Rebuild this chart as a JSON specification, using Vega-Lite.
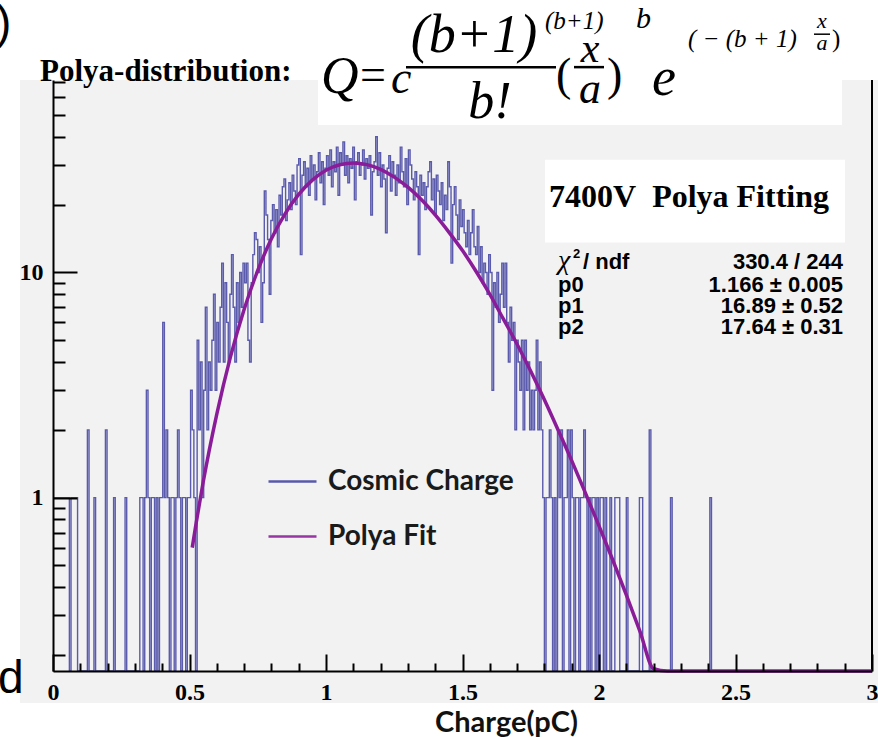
{
  "$schema": "https://vega.github.io/schema/vega-lite/v6.json",
  "width": 819,
  "height": 591,
  "autosize": {"type": "none"},
  "padding": {"left": 53, "top": 80, "right": 6, "bottom": 66},
  "background": "white",
  "config": {
    "view": {"stroke": null, "fill": "#f2f2f2"},
    "axis": {"domainColor": "black", "domainWidth": 2, "tickColor": "black", "tickWidth": 2, "grid": false, "labelFont": "Liberation Serif", "labelFontWeight": "bold", "labelFontSize": 24, "labelColor": "black"}
  },
  "datasets": {
    "hist": [
      {"x":0.003,"n":1},{"x":0.009,"n":1},{"x":0.015,"n":1},{"x":0.021,"n":1},{"x":0.027,"n":1},{"x":0.033,"n":1},{"x":0.039,"n":1},{"x":0.045,"n":1},{"x":0.051,"n":1},{"x":0.057,"n":1},{"x":0.063,"n":0},{"x":0.069,"n":1},{"x":0.075,"n":1},{"x":0.081,"n":1},{"x":0.087,"n":1},{"x":0.093,"n":0},
      {"x":0.123,"n":0},{"x":0.129,"n":2},{"x":0.135,"n":0},
      {"x":0.147,"n":0},{"x":0.153,"n":1},{"x":0.159,"n":0},
      {"x":0.189,"n":0},{"x":0.195,"n":2},{"x":0.201,"n":0},
      {"x":0.219,"n":0},{"x":0.225,"n":1},{"x":0.231,"n":0},
      {"x":0.261,"n":0},{"x":0.267,"n":1},{"x":0.273,"n":0},
      {"x":0.315,"n":0},{"x":0.321,"n":1},{"x":0.327,"n":1},{"x":0.333,"n":0},{"x":0.339,"n":1},{"x":0.345,"n":3},{"x":0.351,"n":1},{"x":0.357,"n":0},{"x":0.363,"n":1},{"x":0.369,"n":1},{"x":0.375,"n":0},{"x":0.381,"n":1},{"x":0.387,"n":0},{"x":0.393,"n":1},{"x":0.399,"n":1},{"x":0.405,"n":6},{"x":0.411,"n":1},{"x":0.417,"n":2},{"x":0.423,"n":1},{"x":0.429,"n":0},{"x":0.435,"n":1},{"x":0.441,"n":1},{"x":0.447,"n":0},{"x":0.453,"n":1},{"x":0.459,"n":2},{"x":0.465,"n":1},{"x":0.471,"n":0},{"x":0.477,"n":1},{"x":0.483,"n":1},{"x":0.489,"n":0},{"x":0.495,"n":1},{"x":0.501,"n":1},{"x":0.507,"n":3},{"x":0.513,"n":2},{"x":0.519,"n":1},{"x":0.525,"n":0},
      {"x":0.531,"n":5},{"x":0.537,"n":2},{"x":0.543,"n":4},{"x":0.549,"n":1},{"x":0.555,"n":3},{"x":0.561,"n":7},{"x":0.567,"n":2},{"x":0.573,"n":4},{"x":0.579,"n":3},{"x":0.585,"n":5},{"x":0.591,"n":8},{"x":0.597,"n":3},{"x":0.603,"n":6},{"x":0.609,"n":4},{"x":0.615,"n":7},{"x":0.621,"n":11},{"x":0.627,"n":4},{"x":0.633,"n":9},{"x":0.639,"n":6},{"x":0.645,"n":4},{"x":0.651,"n":8},{"x":0.657,"n":12},{"x":0.663,"n":7},{"x":0.669,"n":4},{"x":0.675,"n":9},{"x":0.681,"n":6},{"x":0.687,"n":10},{"x":0.693,"n":7},{"x":0.699,"n":11},{"x":0.705,"n":9},{"x":0.711,"n":11},{"x":0.717,"n":5},{"x":0.723,"n":4},{"x":0.729,"n":9},{"x":0.735,"n":12},{"x":0.741,"n":15},{"x":0.747,"n":14},{"x":0.753,"n":10},{"x":0.759,"n":13},{"x":0.765,"n":6},{"x":0.771,"n":9},{"x":0.777,"n":23},{"x":0.783,"n":18},{"x":0.789,"n":14},{"x":0.795,"n":8},{"x":0.801,"n":17},{"x":0.807,"n":20},{"x":0.813,"n":15},{"x":0.819,"n":19},{"x":0.825,"n":13},{"x":0.831,"n":22},{"x":0.837,"n":18},{"x":0.843,"n":24},{"x":0.849,"n":26},{"x":0.855,"n":17},{"x":0.861,"n":21},{"x":0.867,"n":25},{"x":0.873,"n":19},{"x":0.879,"n":27},{"x":0.885,"n":23},{"x":0.891,"n":20},{"x":0.897,"n":30},{"x":0.903,"n":32},{"x":0.909,"n":12},{"x":0.915,"n":27},{"x":0.921,"n":31},{"x":0.927,"n":24},{"x":0.933,"n":29},{"x":0.939,"n":22},{"x":0.945,"n":33},{"x":0.951,"n":26},{"x":0.957,"n":30},{"x":0.963,"n":21},{"x":0.969,"n":28},{"x":0.975,"n":34},{"x":0.981,"n":25},{"x":0.987,"n":31},{"x":0.993,"n":20},{"x":0.999,"n":29},
      {"x":1.005,"n":33},{"x":1.011,"n":27},{"x":1.017,"n":35},{"x":1.023,"n":24},{"x":1.029,"n":31},{"x":1.035,"n":28},{"x":1.041,"n":36},{"x":1.047,"n":22},{"x":1.053,"n":34},{"x":1.059,"n":30},{"x":1.065,"n":38},{"x":1.071,"n":27},{"x":1.077,"n":33},{"x":1.083,"n":25},{"x":1.089,"n":32},{"x":1.095,"n":29},{"x":1.101,"n":36},{"x":1.107,"n":21},{"x":1.113,"n":31},{"x":1.119,"n":34},{"x":1.125,"n":27},{"x":1.131,"n":30},{"x":1.137,"n":35},{"x":1.143,"n":26},{"x":1.149,"n":32},{"x":1.155,"n":29},{"x":1.161,"n":33},{"x":1.167,"n":18},{"x":1.173,"n":28},{"x":1.179,"n":31},{"x":1.185,"n":40},{"x":1.191,"n":27},{"x":1.197,"n":34},{"x":1.203,"n":24},{"x":1.209,"n":30},{"x":1.215,"n":26},{"x":1.221,"n":15},{"x":1.227,"n":29},{"x":1.233,"n":33},{"x":1.239,"n":23},{"x":1.245,"n":31},{"x":1.251,"n":27},{"x":1.257,"n":22},{"x":1.263,"n":30},{"x":1.269,"n":25},{"x":1.275,"n":36},{"x":1.281,"n":28},{"x":1.287,"n":24},{"x":1.293,"n":32},{"x":1.299,"n":20},{"x":1.305,"n":35},{"x":1.311,"n":30},{"x":1.317,"n":26},{"x":1.323,"n":21},{"x":1.329,"n":28},{"x":1.335,"n":24},{"x":1.341,"n":12},{"x":1.347,"n":27},{"x":1.353,"n":22},{"x":1.359,"n":25},{"x":1.365,"n":19},{"x":1.371,"n":24},{"x":1.377,"n":28},{"x":1.383,"n":31},{"x":1.389,"n":21},{"x":1.395,"n":26},{"x":1.401,"n":18},{"x":1.407,"n":27},{"x":1.413,"n":23},{"x":1.419,"n":20},{"x":1.425,"n":25},{"x":1.431,"n":17},{"x":1.437,"n":22},{"x":1.443,"n":19},{"x":1.449,"n":31},{"x":1.455,"n":24},{"x":1.461,"n":11},{"x":1.467,"n":20},{"x":1.473,"n":24},{"x":1.479,"n":18},{"x":1.485,"n":14},{"x":1.491,"n":21},{"x":1.497,"n":16},
      {"x":1.503,"n":19},{"x":1.509,"n":15},{"x":1.515,"n":13},{"x":1.521,"n":17},{"x":1.527,"n":12},{"x":1.533,"n":15},{"x":1.539,"n":19},{"x":1.545,"n":13},{"x":1.551,"n":12},{"x":1.557,"n":16},{"x":1.563,"n":10},{"x":1.569,"n":13},{"x":1.575,"n":9},{"x":1.581,"n":11},{"x":1.587,"n":10},{"x":1.593,"n":8},{"x":1.599,"n":12},{"x":1.605,"n":10},{"x":1.611,"n":3},{"x":1.617,"n":9},{"x":1.623,"n":7},{"x":1.629,"n":10},{"x":1.635,"n":6},{"x":1.641,"n":8},{"x":1.647,"n":11},{"x":1.653,"n":7},{"x":1.659,"n":11},{"x":1.665,"n":6},{"x":1.671,"n":4},{"x":1.677,"n":7},{"x":1.683,"n":5},{"x":1.689,"n":6},{"x":1.695,"n":2},{"x":1.701,"n":5},{"x":1.707,"n":4},{"x":1.713,"n":3},{"x":1.719,"n":5},{"x":1.725,"n":2},{"x":1.731,"n":5},{"x":1.737,"n":3},{"x":1.743,"n":4},{"x":1.749,"n":2},{"x":1.755,"n":3},{"x":1.761,"n":2},{"x":1.767,"n":3},{"x":1.773,"n":5},{"x":1.779,"n":2},{"x":1.785,"n":4},{"x":1.791,"n":2},{"x":1.797,"n":1},
      {"x":1.803,"n":0},{"x":1.809,"n":1},{"x":1.815,"n":1},{"x":1.821,"n":2},{"x":1.827,"n":1},{"x":1.833,"n":0},{"x":1.839,"n":1},{"x":1.845,"n":0},{"x":1.851,"n":2},{"x":1.857,"n":1},{"x":1.863,"n":2},{"x":1.869,"n":0},{"x":1.875,"n":1},{"x":1.881,"n":1},{"x":1.887,"n":2},{"x":1.893,"n":0},{"x":1.899,"n":2},{"x":1.905,"n":1},{"x":1.911,"n":0},{"x":1.917,"n":1},{"x":1.923,"n":1},{"x":1.929,"n":0},{"x":1.935,"n":1},{"x":1.941,"n":1},{"x":1.947,"n":2},{"x":1.953,"n":1},{"x":1.959,"n":0},{"x":1.965,"n":1},{"x":1.971,"n":0},{"x":1.977,"n":1},{"x":1.983,"n":1},{"x":1.989,"n":0},{"x":1.995,"n":1},{"x":2.001,"n":0},{"x":2.007,"n":1},{"x":2.013,"n":1},{"x":2.019,"n":0},{"x":2.025,"n":1},{"x":2.031,"n":0},{"x":2.037,"n":0},{"x":2.043,"n":1},{"x":2.049,"n":0},{"x":2.055,"n":0},{"x":2.061,"n":1},{"x":2.067,"n":1},{"x":2.073,"n":1},{"x":2.079,"n":0},{"x":2.097,"n":0},{"x":2.103,"n":1},{"x":2.109,"n":0},{"x":2.145,"n":0},{"x":2.151,"n":1},{"x":2.157,"n":1},{"x":2.163,"n":0},{"x":2.181,"n":0},{"x":2.187,"n":2},{"x":2.193,"n":0},{"x":2.259,"n":0},{"x":2.265,"n":1},{"x":2.271,"n":0},{"x":2.403,"n":0},{"x":2.409,"n":1},{"x":2.415,"n":0}
    ],
    "fit": [
      {"x":0.51,"q":0.6},{"x":0.525,"q":0.78},{"x":0.55,"q":1.17},{"x":0.6,"q":2.35},{"x":0.65,"q":4.22},{"x":0.7,"q":6.85},{"x":0.75,"q":10.2},{"x":0.8,"q":14.1},{"x":0.85,"q":18.2},{"x":0.9,"q":22.2},{"x":0.95,"q":25.7},{"x":1.0,"q":28.4},{"x":1.05,"q":30.05},{"x":1.1,"q":30.6},{"x":1.15,"q":30.1},{"x":1.2,"q":28.7},{"x":1.25,"q":26.5},{"x":1.3,"q":23.9},{"x":1.35,"q":21.0},{"x":1.4,"q":18.0},{"x":1.45,"q":15.1},{"x":1.5,"q":12.5},{"x":1.55,"q":10.1},{"x":1.6,"q":8.0},{"x":1.65,"q":6.2},{"x":1.7,"q":4.8},{"x":1.75,"q":3.64},{"x":1.8,"q":2.72},{"x":1.85,"q":2.0},{"x":1.9,"q":1.46},{"x":1.95,"q":1.05},{"x":2.0,"q":0.75},{"x":2.05,"q":0.53},{"x":2.1,"q":0.37},{"x":2.15,"q":0.255},{"x":2.2,"q":0.174},{"x":2.25,"q":0.118},{"x":2.3,"q":0.08},{"x":2.5,"q":0.015},{"x":3.0,"q":0.00015}
    ]
  },
  "layer": [
    {
      "data": {"values": [{}]},
      "layer": [
        {"mark": {"type": "rect", "fill": "#f2f2f2"},
         "encoding": {"x": {"datum": -0.1209, "type": "quantitative", "axis": null, "scale": {"domain": [0, 3], "nice": false, "zero": false}}, "x2": {"datum": 3.03},
                      "y": {"datum": 0.1226, "type": "quantitative", "axis": null, "scale": {"type": "log", "domain": [0.17, 71.5], "nice": false}}, "y2": {"datum": 71.5}}},
        {"mark": {"type": "rect", "fill": "white"},
         "encoding": {"x": {"datum": 0.9707, "type": "quantitative", "axis": null}, "x2": {"datum": 2.8901},
                      "y": {"datum": 45.17, "type": "quantitative", "axis": null}, "y2": {"datum": 170}}},
        {"mark": {"type": "rect", "fill": "white"},
         "encoding": {"x": {"datum": 1.8022, "type": "quantitative", "axis": null}, "x2": {"datum": 2.901},
                      "y": {"datum": 13.57, "type": "quantitative", "axis": null}, "y2": {"datum": 31.62}}},
        {"mark": {"type": "rule", "color": "black", "strokeWidth": 2},
         "encoding": {"x": {"datum": 3, "type": "quantitative", "axis": null}}},
        {"mark": {"type": "text", "text": "Polya-distribution:", "font": "Liberation Serif", "fontWeight": "bold", "fontSize": 31, "align": "left", "baseline": "alphabetic", "color": "black"},
         "encoding": {"x": {"datum": -0.0476, "type": "quantitative", "axis": null}, "y": {"datum": 71.0, "type": "quantitative", "axis": null}}},
        {"mark": {"type": "text", "text": "Q", "font": "Liberation Serif", "fontStyle": "italic", "fontSize": 52, "align": "left", "baseline": "alphabetic", "color": "black"},
         "encoding": {"x": {"datum": 0.9817, "type": "quantitative", "axis": null}, "y": {"datum": 62.6, "type": "quantitative", "axis": null}}},
        {"mark": {"type": "text", "text": "=", "font": "Liberation Serif", "fontSize": 46, "align": "left", "baseline": "alphabetic", "color": "black"},
         "encoding": {"x": {"datum": 1.1245, "type": "quantitative", "axis": null}, "y": {"datum": 64.5, "type": "quantitative", "axis": null}}},
        {"mark": {"type": "text", "text": "c", "font": "Liberation Serif", "fontStyle": "italic", "fontSize": 46, "align": "left", "baseline": "alphabetic", "color": "black"},
         "encoding": {"x": {"datum": 1.2381, "type": "quantitative", "axis": null}, "y": {"datum": 62.6, "type": "quantitative", "axis": null}}},
        {"mark": {"type": "text", "text": "(b+1)", "font": "Liberation Serif", "fontStyle": "italic", "fontSize": 54, "align": "center", "baseline": "alphabetic", "color": "black"},
         "encoding": {"x": {"datum": 1.5421, "type": "quantitative", "axis": null}, "y": {"datum": 95.0, "type": "quantitative", "axis": null}}},
        {"mark": {"type": "text", "text": "(b+1)", "font": "Liberation Serif", "fontStyle": "italic", "fontSize": 25, "align": "left", "baseline": "alphabetic", "color": "black"},
         "encoding": {"x": {"datum": 1.8022, "type": "quantitative", "axis": null}, "y": {"datum": 120, "type": "quantitative", "axis": null}}},
        {"mark": {"type": "rule", "color": "black", "strokeWidth": 2.5},
         "encoding": {"x": {"datum": 1.293, "type": "quantitative", "axis": null}, "x2": {"datum": 1.8425}, "y": {"datum": 81.55, "type": "quantitative", "axis": null}}},
        {"mark": {"type": "text", "text": "b!", "font": "Liberation Serif", "fontStyle": "italic", "fontSize": 52, "align": "center", "baseline": "alphabetic", "color": "black"},
         "encoding": {"x": {"datum": 1.6007, "type": "quantitative", "axis": null}, "y": {"datum": 48.5, "type": "quantitative", "axis": null}}},
        {"mark": {"type": "text", "text": "(", "font": "Liberation Serif", "fontSize": 46, "align": "left", "baseline": "alphabetic", "color": "black"},
         "encoding": {"x": {"datum": 1.8425, "type": "quantitative", "axis": null}, "y": {"datum": 64.5, "type": "quantitative", "axis": null}}},
        {"mark": {"type": "text", "text": ")", "font": "Liberation Serif", "fontSize": 46, "align": "left", "baseline": "alphabetic", "color": "black"},
         "encoding": {"x": {"datum": 2.0293, "type": "quantitative", "axis": null}, "y": {"datum": 64.5, "type": "quantitative", "axis": null}}},
        {"mark": {"type": "text", "text": "x", "font": "Liberation Serif", "fontStyle": "italic", "fontSize": 42, "align": "center", "baseline": "alphabetic", "color": "black"},
         "encoding": {"x": {"datum": 1.967, "type": "quantitative", "axis": null}, "y": {"datum": 85.8, "type": "quantitative", "axis": null}}},
        {"mark": {"type": "rule", "color": "black", "strokeWidth": 2.5},
         "encoding": {"x": {"datum": 1.9084, "type": "quantitative", "axis": null}, "x2": {"datum": 2.0183}, "y": {"datum": 81.55, "type": "quantitative", "axis": null}}},
        {"mark": {"type": "text", "text": "a", "font": "Liberation Serif", "fontStyle": "italic", "fontSize": 44, "align": "center", "baseline": "alphabetic", "color": "black"},
         "encoding": {"x": {"datum": 1.967, "type": "quantitative", "axis": null}, "y": {"datum": 56.5, "type": "quantitative", "axis": null}}},
        {"mark": {"type": "text", "text": "b", "font": "Liberation Serif", "fontStyle": "italic", "fontSize": 30, "align": "left", "baseline": "alphabetic", "color": "black"},
         "encoding": {"x": {"datum": 2.1355, "type": "quantitative", "axis": null}, "y": {"datum": 121.4, "type": "quantitative", "axis": null}}},
        {"mark": {"type": "text", "text": "e", "font": "Liberation Serif", "fontStyle": "italic", "fontSize": 54, "align": "left", "baseline": "alphabetic", "color": "black"},
         "encoding": {"x": {"datum": 2.1941, "type": "quantitative", "axis": null}, "y": {"datum": 61.3, "type": "quantitative", "axis": null}}},
        {"mark": {"type": "text", "text": "( − (b + 1)", "font": "Liberation Serif", "fontStyle": "italic", "fontSize": 25, "align": "left", "baseline": "alphabetic", "color": "black"},
         "encoding": {"x": {"datum": 2.326, "type": "quantitative", "axis": null}, "y": {"datum": 100.0, "type": "quantitative", "axis": null}}},
        {"mark": {"type": "text", "text": "x", "font": "Liberation Serif", "fontStyle": "italic", "fontSize": 22, "align": "center", "baseline": "alphabetic", "color": "black"},
         "encoding": {"x": {"datum": 2.8168, "type": "quantitative", "axis": null}, "y": {"datum": 121.4, "type": "quantitative", "axis": null}}},
        {"mark": {"type": "rule", "color": "black", "strokeWidth": 1.5},
         "encoding": {"x": {"datum": 2.7875, "type": "quantitative", "axis": null}, "x2": {"datum": 2.8462}, "y": {"datum": 114.2, "type": "quantitative", "axis": null}}},
        {"mark": {"type": "text", "text": "a", "font": "Liberation Serif", "fontStyle": "italic", "fontSize": 22, "align": "center", "baseline": "alphabetic", "color": "black"},
         "encoding": {"x": {"datum": 2.8168, "type": "quantitative", "axis": null}, "y": {"datum": 97.0, "type": "quantitative", "axis": null}}},
        {"mark": {"type": "text", "text": ")", "font": "Liberation Serif", "fontSize": 25, "align": "left", "baseline": "alphabetic", "color": "black"},
         "encoding": {"x": {"datum": 2.8535, "type": "quantitative", "axis": null}, "y": {"datum": 100.0, "type": "quantitative", "axis": null}}},
        {"mark": {"type": "text", "text": "7400V\u00a0\u00a0Polya Fitting", "font": "Liberation Serif", "fontWeight": "bold", "fontSize": 32, "align": "center", "baseline": "alphabetic", "color": "black"},
         "encoding": {"x": {"datum": 2.3297, "type": "quantitative", "axis": null}, "y": {"datum": 19.59, "type": "quantitative", "axis": null}}},
        {"mark": {"type": "text", "text": "χ", "font": "Liberation Serif", "fontStyle": "italic", "fontSize": 28, "align": "left", "baseline": "alphabetic", "color": "black"},
         "encoding": {"x": {"datum": 1.8498, "type": "quantitative", "axis": null}, "y": {"datum": 10.31, "type": "quantitative", "axis": null}}},
        {"mark": {"type": "text", "text": "2", "font": "Liberation Sans", "fontWeight": "bold", "fontSize": 13, "align": "left", "baseline": "alphabetic", "color": "black"},
         "encoding": {"x": {"datum": 1.9048, "type": "quantitative", "axis": null}, "y": {"datum": 11.53, "type": "quantitative", "axis": null}}},
        {"mark": {"type": "text", "text": "/ ndf", "font": "Liberation Sans", "fontWeight": "bold", "fontSize": 22, "align": "left", "baseline": "alphabetic", "color": "black"},
         "encoding": {"x": {"datum": 1.9414, "type": "quantitative", "axis": null}, "y": {"datum": 10.31, "type": "quantitative", "axis": null}}},
        {"mark": {"type": "text", "text": "p0", "font": "Liberation Sans", "fontWeight": "bold", "fontSize": 22, "align": "left", "baseline": "alphabetic", "color": "black"},
         "encoding": {"x": {"datum": 1.8498, "type": "quantitative", "axis": null}, "y": {"datum": 8.155, "type": "quantitative", "axis": null}}},
        {"mark": {"type": "text", "text": "p1", "font": "Liberation Sans", "fontWeight": "bold", "fontSize": 22, "align": "left", "baseline": "alphabetic", "color": "black"},
         "encoding": {"x": {"datum": 1.8498, "type": "quantitative", "axis": null}, "y": {"datum": 6.585, "type": "quantitative", "axis": null}}},
        {"mark": {"type": "text", "text": "p2", "font": "Liberation Sans", "fontWeight": "bold", "fontSize": 22, "align": "left", "baseline": "alphabetic", "color": "black"},
         "encoding": {"x": {"datum": 1.8498, "type": "quantitative", "axis": null}, "y": {"datum": 5.318, "type": "quantitative", "axis": null}}},
        {"mark": {"type": "text", "text": "330.4 / 244", "font": "Liberation Sans", "fontWeight": "bold", "fontSize": 22, "align": "right", "baseline": "alphabetic", "color": "black"},
         "encoding": {"x": {"datum": 2.8938, "type": "quantitative", "axis": null}, "y": {"datum": 10.31, "type": "quantitative", "axis": null}}},
        {"mark": {"type": "text", "text": "1.166 ± 0.005", "font": "Liberation Sans", "fontWeight": "bold", "fontSize": 22, "align": "right", "baseline": "alphabetic", "color": "black"},
         "encoding": {"x": {"datum": 2.8938, "type": "quantitative", "axis": null}, "y": {"datum": 8.155, "type": "quantitative", "axis": null}}},
        {"mark": {"type": "text", "text": "16.89 ± 0.52", "font": "Liberation Sans", "fontWeight": "bold", "fontSize": 22, "align": "right", "baseline": "alphabetic", "color": "black"},
         "encoding": {"x": {"datum": 2.8938, "type": "quantitative", "axis": null}, "y": {"datum": 6.585, "type": "quantitative", "axis": null}}},
        {"mark": {"type": "text", "text": "17.64 ± 0.31", "font": "Liberation Sans", "fontWeight": "bold", "fontSize": 22, "align": "right", "baseline": "alphabetic", "color": "black"},
         "encoding": {"x": {"datum": 2.8938, "type": "quantitative", "axis": null}, "y": {"datum": 5.318, "type": "quantitative", "axis": null}}},
        {"mark": {"type": "text", "text": "d", "font": "Liberation Sans", "fontSize": 46, "align": "left", "baseline": "alphabetic", "color": "black"},
         "encoding": {"x": {"datum": -0.2015, "type": "quantitative", "axis": null}, "y": {"datum": 0.1357, "type": "quantitative", "axis": null}}},
        {"mark": {"type": "text", "text": ")", "font": "Liberation Sans", "fontSize": 46, "align": "left", "baseline": "alphabetic", "color": "black"},
         "encoding": {"x": {"datum": -0.2088, "type": "quantitative", "axis": null}, "y": {"datum": 109.6, "type": "quantitative", "axis": null}}}
      ]
    },
    {
      "layer": [
        {
          "data": {"name": "hist"},
          "mark": {"type": "line", "interpolate": "step", "strokeWidth": 1.4, "opacity": 0.88, "invalid": "show"},
          "encoding": {
            "x": {"field": "x", "type": "quantitative", "scale": {"domain": [0, 3], "nice": false, "zero": false},
                  "axis": {"orient": "bottom", "zindex": 3, "values": [0, 0.5, 1, 1.5, 2, 2.5, 3], "format": "~g", "tickSize": -17, "labelPadding": 26, "labelFlush": false, "labelOverlap": false,
                           "title": "Charge(pC)", "titleFont": "Lato", "titleFontWeight": "bold", "titleFontSize": 29, "titleColor": "#111111", "titleX": 453, "titleY": 60, "titleBaseline": "alphabetic", "titleAnchor": "start", "titleAlign": "center"}},
            "y": {"field": "n", "type": "quantitative", "scale": {"type": "log", "domain": [0.17, 71.5], "nice": false, "clamp": true},
                  "axis": {"orient": "left", "zindex": 3, "values": [1, 10], "format": "~g", "tickSize": -24, "labelPadding": 34, "title": null}},
            "color": {"datum": "Cosmic Charge", "type": "nominal",
                      "scale": {"domain": ["Cosmic Charge", "Polya Fit"], "range": ["#4545a3", "#8b1c99"]},
                      "legend": {"orient": "none", "legendX": 214, "legendY": 376, "title": null, "symbolType": "stroke", "symbolSize": 2304, "symbolStrokeWidth": 2.5,
                                 "labelFont": "Lato", "labelFontSize": 28, "labelFontWeight": "bold", "labelColor": "#1a1a1a", "labelOffset": 10, "rowPadding": 15, "padding": 0, "labelLimit": 400}}
          }
        },
        {
          "data": {"name": "fit"},
          "mark": {"type": "line", "interpolate": "monotone", "strokeWidth": 3.5},
          "encoding": {
            "x": {"field": "x", "type": "quantitative",
                  "axis": {"orient": "bottom", "zindex": 3, "values": [0.1,0.2,0.3,0.4,0.6,0.7,0.8,0.9,1.1,1.2,1.3,1.4,1.6,1.7,1.8,1.9,2.1,2.2,2.3,2.4,2.6,2.7,2.8,2.9], "labels": false, "domain": false, "tickSize": -8, "title": null}},
            "y": {"field": "q", "type": "quantitative",
                  "axis": {"orient": "left", "zindex": 3, "values": [0.2,0.3,0.4,0.5,0.6,0.7,0.8,0.9,2,3,4,5,6,7,8,9,20,30,40,50,60,70], "labels": false, "domain": false, "tickSize": -12, "title": null}},
            "color": {"datum": "Polya Fit", "type": "nominal"}
          }
        }
      ],
      "resolve": {"axis": {"x": "independent", "y": "independent"}}
    }
  ],
  "resolve": {"scale": {"y": "independent"}, "axis": {"x": "independent", "y": "independent"}}
}
